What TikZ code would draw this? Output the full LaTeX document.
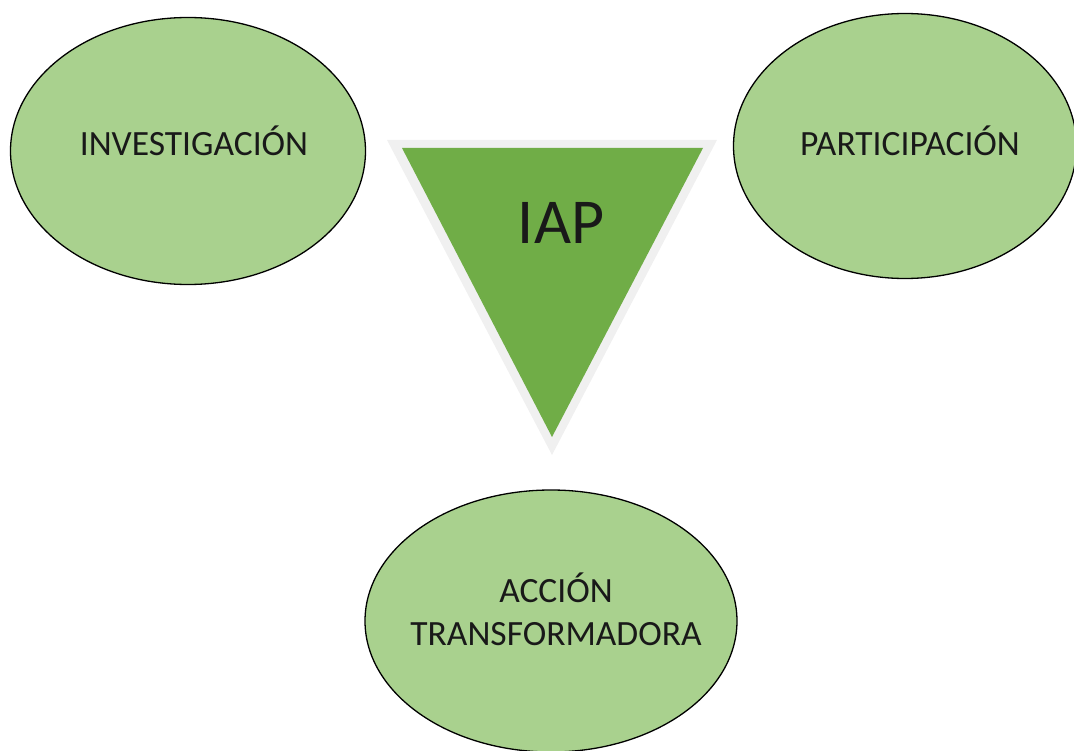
\documentclass[tikz,border=0pt]{standalone}
\usepackage{fontspec}
\setmainfont{Carlito}
\usetikzlibrary{shapes.geometric}
\definecolor{ovalfill}{HTML}{A9D18E}
\definecolor{trifill}{HTML}{70AD47}
\definecolor{triedge}{HTML}{F0F0F0}
\tikzset{
  x=1pt, y=-1pt,
  oval/.style={ellipse, draw=black, line width=1.3pt, fill=ovalfill,
    inner sep=0pt},
  ovaltext/.style={align=center, text=black!90, font=\fontsize{35.5}{42}\selectfont},
}
\begin{document}
\begin{tikzpicture}
  \useasboundingbox (0,0) rectangle (1074,751);
  \clip (0,0) rectangle (1074,751);
  % central triangle with pale rim
  \fill[triedge] (387,140) -- (717,140) -- (552,455) -- cycle;
  \fill[trifill] (402,148) -- (703,148) -- (552,437) -- cycle;
  \node[text=black!90, font=\fontsize{64}{70}\selectfont] (iap) at (561,223) {IAP};
  % the three ovals
  \node[oval, minimum width=355, minimum height=267] (inv) at (188,151) {};
  \node[ovaltext] (invt) at (194,141) {INVESTIGACIÓN};
  \node[oval, minimum width=343, minimum height=265] (par) at (905,146) {};
  \node[ovaltext] (part) at (910,141) {PARTICIPACIÓN};
  \node[oval, minimum width=372, minimum height=262] (acc) at (551,621) {};
  \node[ovaltext] (acct) at (556,609) {ACCIÓN\\[1pt]TRANSFORMADORA};
\end{tikzpicture}
\end{document}
